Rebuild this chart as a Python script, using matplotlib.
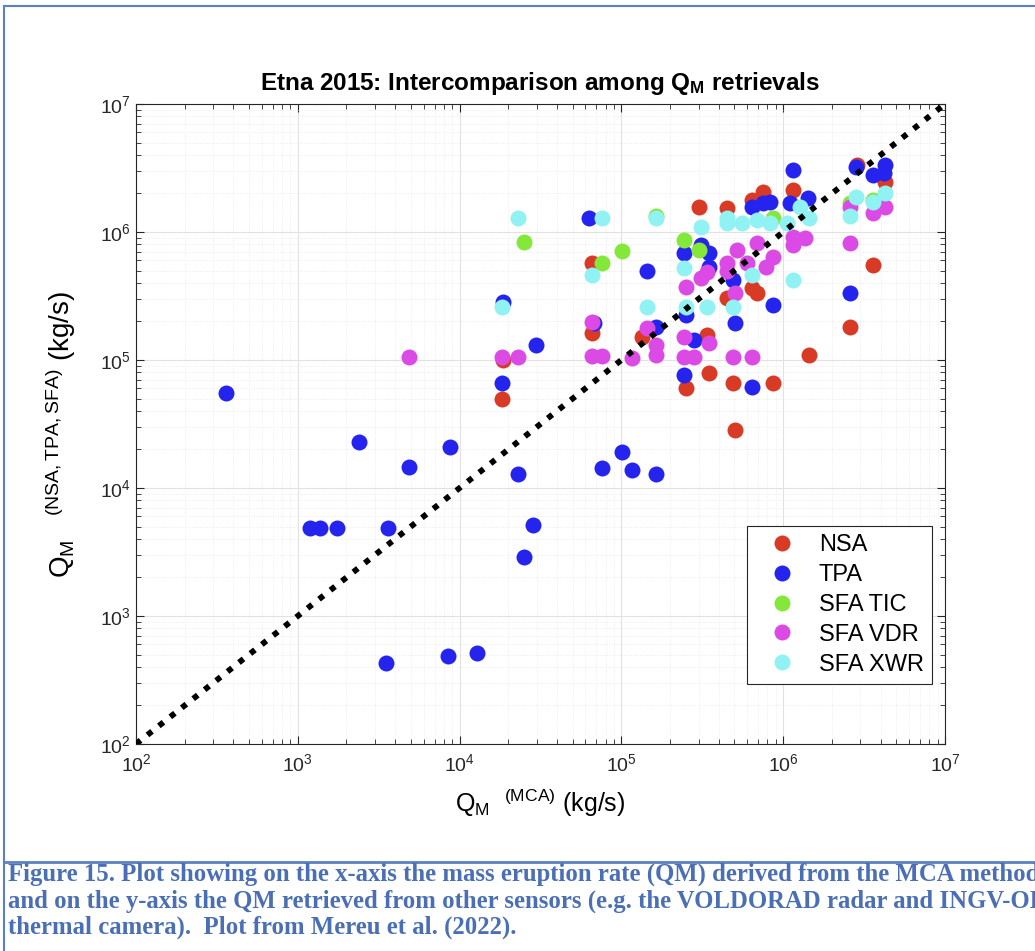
import matplotlib
matplotlib.use('Agg')
import matplotlib.pyplot as plt
from matplotlib.lines import Line2D

# ---------- DATA ----------
nsa_x = [1.85e4, 1.82e4, 6.6e4, 6.6e4, 1.35e5, 2.5e5, 3.4e5, 3.5e5, 4.9e5, 8.7e5,
         1.45e6, 5.07e5, 4.5e5, 6.85e5, 6.45e5, 4.5e5, 3.03e5, 6.45e5, 7.5e5, 1.15e6,
         3.6e6, 2.6e6, 2.86e6, 4.25e6]
nsa_y = [1.0e5, 5.0e4, 5.7e5, 1.63e5, 1.51e5, 6.0e4, 1.57e5, 7.9e4, 6.6e4, 6.6e4,
         1.09e5, 2.84e4, 3.05e5, 3.33e5, 3.65e5, 1.54e6, 1.57e6, 1.78e6, 2.05e6, 2.13e6,
         5.5e5, 1.81e5, 3.33e6, 2.46e6]

tpa_x = [3.6e2, 2.4e3, 1.19e3, 1.37e3, 1.74e3, 3.6e3, 4.85e3, 8.7e3, 2.3e4, 2.83e4,
         2.5e4, 3.5e3, 8.5e3, 1.29e4, 1.85e4, 1.82e4, 2.95e4, 1.01e5, 7.6e4, 1.17e5,
         1.64e5, 6.35e4, 1.45e5, 6.8e4, 1.64e5, 2.5e5, 2.83e5, 2.45e5, 6.45e5, 5.07e5,
         8.7e5, 4.9e5, 2.45e5, 3.5e5, 3.12e5, 3.5e5, 6.45e5, 7.5e5, 8.3e5, 1.15e6,
         1.1e6, 1.43e6, 2.6e6, 2.8e6, 3.6e6, 4.25e6, 4.2e6]
tpa_y = [5.5e4, 2.3e4, 4.9e3, 4.9e3, 4.9e3, 4.9e3, 1.46e4, 2.1e4, 1.29e4, 5.1e3,
         2.9e3, 4.3e2, 4.9e2, 5.1e2, 2.84e5, 6.6e4, 1.31e5, 1.91e4, 1.43e4, 1.38e4,
         1.29e4, 1.28e6, 4.96e5, 1.95e5, 1.81e5, 2.25e5, 1.43e5, 7.6e4, 6.2e4, 1.95e5,
         2.69e5, 4.2e5, 6.85e5, 6.85e5, 7.9e5, 5.3e5, 1.57e6, 1.69e6, 1.71e6, 3.05e6,
         1.69e6, 1.84e6, 3.33e5, 3.22e6, 2.79e6, 3.33e6, 2.9e6]

tic_x = [2.5e4, 7.6e4, 1.01e5, 1.64e5, 2.45e5, 3.03e5, 8.7e5, 2.6e6, 3.6e6]
tic_y = [8.35e5, 5.7e5, 7.1e5, 1.33e6, 8.66e5, 7.2e5, 1.28e6, 1.69e6, 1.78e6]

vdr_x = [4.85e3, 1.82e4, 2.3e4, 6.6e4, 6.6e4, 7.6e4, 1.17e5, 1.64e5, 1.64e5, 1.45e5,
         2.45e5, 3.5e5, 2.45e5, 2.83e5, 4.9e5, 6.45e5, 5.07e5, 6.0e5, 4.5e5, 3.4e5,
         3.12e5, 2.5e5, 5.2e5, 6.85e5, 8.7e5, 7.8e5, 1.15e6, 1.37e6, 1.15e6, 2.6e6,
         3.6e6, 4.25e6, 2.6e6, 4.5e5]
vdr_y = [1.05e5, 1.05e5, 1.05e5, 1.98e5, 1.07e5, 1.07e5, 1.04e5, 1.31e5, 1.09e5, 1.78e5,
         1.51e5, 1.36e5, 1.05e5, 1.05e5, 1.05e5, 1.05e5, 3.33e5, 5.7e5, 5.7e5, 4.87e5,
         4.37e5, 3.7e5, 7.2e5, 8.2e5, 6.4e5, 5.3e5, 9.1e5, 8.97e5, 7.9e5, 8.2e5,
         1.41e6, 1.57e6, 1.57e6, 5.0e5]

xwr_x = [2.3e4, 7.6e4, 1.64e5, 6.6e4, 1.82e4, 1.45e5, 2.5e5, 3.4e5, 4.9e5, 6.45e5,
         2.45e5, 3.12e5, 4.5e5, 4.5e5, 5.6e5, 6.9e5, 8.3e5, 1.06e6, 1.27e6, 1.45e6,
         1.15e6, 2.8e6, 2.6e6, 3.6e6, 4.25e6]
xwr_y = [1.28e6, 1.28e6, 1.28e6, 4.6e5, 2.6e5, 2.6e5, 2.6e5, 2.6e5, 2.6e5, 4.6e5,
         5.2e5, 1.09e6, 1.17e6, 1.28e6, 1.17e6, 1.24e6, 1.17e6, 1.17e6, 1.57e6, 1.28e6,
         4.2e5, 1.88e6, 1.33e6, 1.71e6, 2.02e6]

series = [
    ('NSA', nsa_x, nsa_y, '#d83a26'),
    ('TPA', tpa_x, tpa_y, '#2424ee'),
    ('SFA TIC', tic_x, tic_y, '#84e83a'),
    ('SFA VDR', vdr_x, vdr_y, '#dc4ae6'),
    ('SFA XWR', xwr_x, xwr_y, '#90f2f2'),
]
one_to_one = [1e2, 1e7]

caption = [
    "Figure 15. Plot showing on the x-axis the mass eruption rate (QM) derived from the MCA method",
    "and on the y-axis the QM retrieved from other sensors (e.g. the VOLDORAD radar and INGV-OE",
    "thermal camera).  Plot from Mereu et al. (2022).",
]
# ---------------------------------------------------

plt.rcParams['font.family'] = ['Liberation Sans', 'DejaVu Sans']
plt.rcParams['mathtext.default'] = 'regular'

fig = plt.figure(figsize=(10.35, 9.51), dpi=100)
ax = fig.add_axes([0.1314, 0.2177, 0.7816, 0.6729])

for label, xs, ys, color in series:
    ax.plot(xs, ys, 'o', color=color, ms=11.5, mew=0, label=label, zorder=3)

ax.plot(one_to_one, one_to_one, color='black', lw=4.2, dashes=(1, 1.5),
        dash_capstyle='butt', zorder=4)

ax.set_xscale('log')
ax.set_yscale('log')
ax.set_xlim(1e2, 1e7)
ax.set_ylim(1e2, 1e7)

ax.grid(True, which='major', color='#e2e2e2', lw=0.8)
ax.grid(True, which='minor', color='#e8e8e8', lw=0.6, ls=':')
ax.set_axisbelow(True)
ax.tick_params(which='both', direction='in', top=True, right=True,
               colors='#262626', labelsize=14)
ax.tick_params(axis='x', which='major', pad=7)
ax.tick_params(which='major', length=6)
ax.tick_params(which='minor', length=3.5)
for sp in ax.spines.values():
    sp.set_color('#262626')
    sp.set_linewidth(0.8)

ax.set_title('Etna 2015: Intercomparison among Q$_M$ retrievals',
             fontsize=17.5, fontweight='bold', pad=10)
ax.set_xlabel('Q$_M$  $^{(MCA)}$ (kg/s)', fontsize=18, labelpad=8)
ax.set_ylabel('Q$_M$   $^{(NSA,TPA,SFA)}$ (kg/s)', fontsize=20)
ax.yaxis.set_label_coords(-0.072, 0.484)

leg = ax.legend(loc='lower right', bbox_to_anchor=(0.984, 0.094), borderaxespad=0,
                fontsize=17, fancybox=False, framealpha=1, edgecolor='#262626',
                labelspacing=0.33, handlelength=2.3, handletextpad=0.4,
                borderpad=0.35)
leg.get_frame().set_linewidth(0.8)

# page frame and caption (caption runs past the right edge, as in the source page)
frame_color = '#5b80c4'
fig.add_artist(Line2D([4 / 1035, 1], [1 - 6 / 951, 1 - 6 / 951], color=frame_color, lw=1.5))
fig.add_artist(Line2D([4 / 1035, 4 / 1035], [0, 1 - 6 / 951], color=frame_color, lw=1.5))
fig.add_artist(Line2D([4 / 1035, 1], [1 - 862 / 951, 1 - 862 / 951], color=frame_color, lw=2))
for i, line in enumerate(caption):
    fig.text(8 / 1035, 1 - (881 + 26.5 * i) / 951, line, fontsize=17.8, fontweight='bold',
             family='Liberation Serif', color='#4a6fb5', va='baseline', ha='left')

fig.savefig('out.png', dpi=100)
